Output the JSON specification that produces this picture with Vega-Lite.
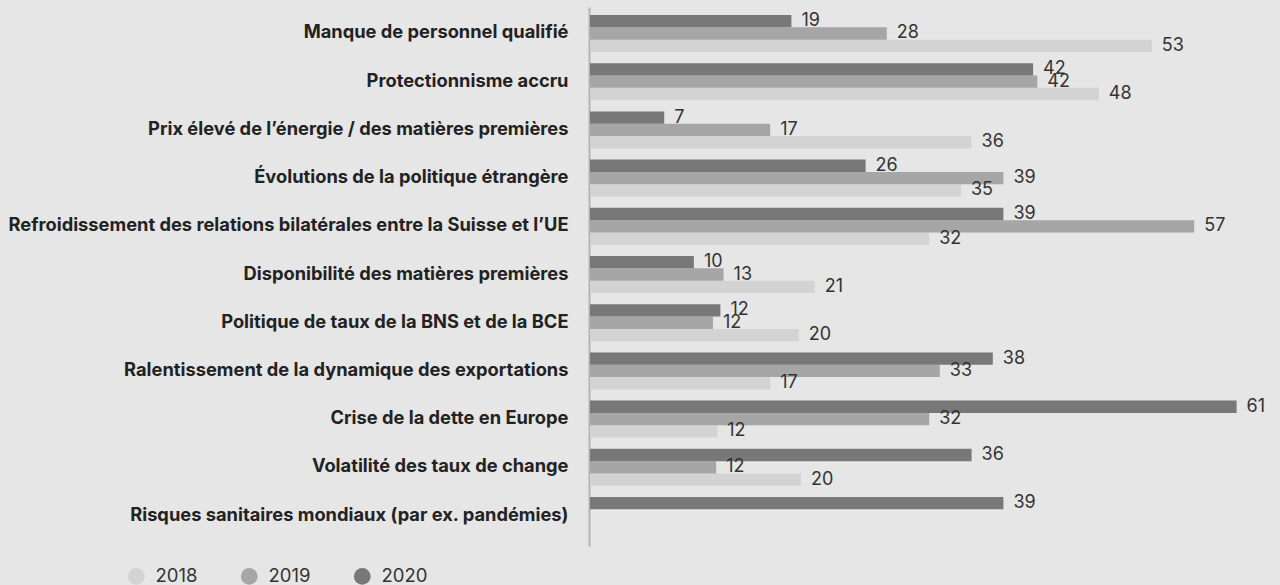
{
  "$schema": "https://vega.github.io/schema/vega-lite/v6.json",
  "width": 689,
  "height": 539,
  "autosize": {"type": "none"},
  "padding": {"left": 590, "top": 7, "right": 1, "bottom": 39},
  "background": "#e6e6e6",
  "config": {"view": {"stroke": null}, "font": "Inter"},
  "data": {"values": [
    {"cat": "Manque de personnel qualifié", "year": "2018", "v": 53},
    {"cat": "Manque de personnel qualifié", "year": "2019", "v": 28},
    {"cat": "Manque de personnel qualifié", "year": "2020", "v": 19},
    {"cat": "Protectionnisme accru", "year": "2018", "v": 48},
    {"cat": "Protectionnisme accru", "year": "2019", "v": 42.2},
    {"cat": "Protectionnisme accru", "year": "2020", "v": 41.8},
    {"cat": "Prix élevé de l’énergie / des matières premières", "year": "2018", "v": 36},
    {"cat": "Prix élevé de l’énergie / des matières premières", "year": "2019", "v": 17},
    {"cat": "Prix élevé de l’énergie / des matières premières", "year": "2020", "v": 7},
    {"cat": "Évolutions de la politique étrangère", "year": "2018", "v": 35},
    {"cat": "Évolutions de la politique étrangère", "year": "2019", "v": 39},
    {"cat": "Évolutions de la politique étrangère", "year": "2020", "v": 26},
    {"cat": "Refroidissement des relations bilatérales entre la Suisse et l’UE", "year": "2018", "v": 32},
    {"cat": "Refroidissement des relations bilatérales entre la Suisse et l’UE", "year": "2019", "v": 57},
    {"cat": "Refroidissement des relations bilatérales entre la Suisse et l’UE", "year": "2020", "v": 39},
    {"cat": "Disponibilité des matières premières", "year": "2018", "v": 21.2},
    {"cat": "Disponibilité des matières premières", "year": "2019", "v": 12.6},
    {"cat": "Disponibilité des matières premières", "year": "2020", "v": 9.8},
    {"cat": "Politique de taux de la BNS et de la BCE", "year": "2018", "v": 19.7},
    {"cat": "Politique de taux de la BNS et de la BCE", "year": "2019", "v": 11.6},
    {"cat": "Politique de taux de la BNS et de la BCE", "year": "2020", "v": 12.3},
    {"cat": "Ralentissement de la dynamique des exportations", "year": "2018", "v": 17},
    {"cat": "Ralentissement de la dynamique des exportations", "year": "2019", "v": 33},
    {"cat": "Ralentissement de la dynamique des exportations", "year": "2020", "v": 38},
    {"cat": "Crise de la dette en Europe", "year": "2018", "v": 12},
    {"cat": "Crise de la dette en Europe", "year": "2019", "v": 32},
    {"cat": "Crise de la dette en Europe", "year": "2020", "v": 61},
    {"cat": "Volatilité des taux de change", "year": "2018", "v": 19.9},
    {"cat": "Volatilité des taux de change", "year": "2019", "v": 11.9},
    {"cat": "Volatilité des taux de change", "year": "2020", "v": 36},
    {"cat": "Risques sanitaires mondiaux (par ex. pandémies)", "year": "2020", "v": 39}
  ]},
  "encoding": {
    "y": {
      "field": "cat", "type": "nominal", "sort": null,
      "scale": {"paddingInner": 0.232, "paddingOuter": 0.207, "align": 0.4},
      "axis": {
        "title": null, "ticks": false, "tickSize": 0, "offset": 1,
        "domainColor": "#b3b3b3", "domainWidth": 2,
        "labelFont": "Inter", "labelFontWeight": "bold", "labelFontSize": 18.3,
        "labelColor": "#222222", "labelPadding": 21, "labelLimit": 0
      }
    },
    "yOffset": {"field": "year", "type": "nominal", "sort": ["2020", "2019", "2018"]},
    "x": {"field": "v", "type": "quantitative", "scale": {"domain": [0, 65], "nice": false}, "axis": null}
  },
  "layer": [
    {
      "mark": {"type": "bar"},
      "encoding": {
        "color": {
          "field": "year", "type": "nominal",
          "scale": {"domain": ["2018", "2019", "2020"], "range": ["#d3d3d3", "#a6a6a6", "#787878"]},
          "legend": {
            "title": null, "orient": "none", "direction": "horizontal",
            "legendX": -463, "legendY": 560,
            "symbolType": "circle", "symbolSize": 280, "symbolStrokeWidth": 0,
            "labelFont": "Inter", "labelFontSize": 18.5, "labelColor": "#333333",
            "labelOffset": 10, "columnPadding": 42
          }
        }
      }
    },
    {
      "mark": {"type": "text", "align": "left", "baseline": "middle", "dx": 10, "font": "Inter", "fontSize": 18, "color": "#333333"},
      "encoding": {"text": {"field": "v", "type": "quantitative", "format": ".0f"}}
    }
  ]
}
